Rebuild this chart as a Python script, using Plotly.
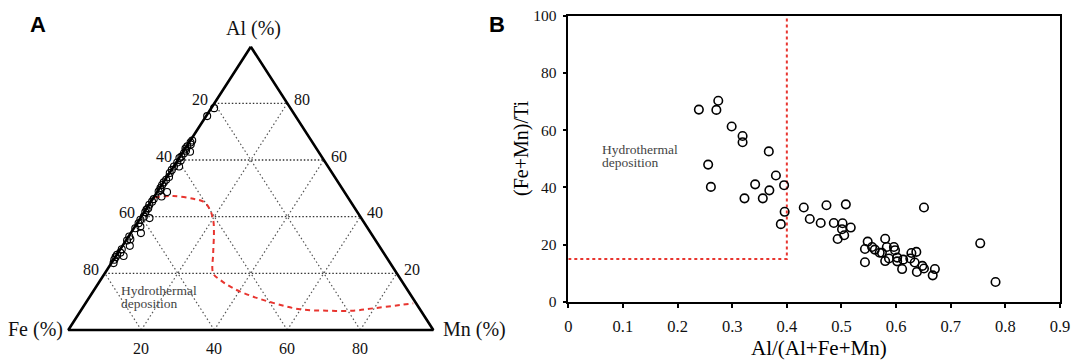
import plotly.graph_objects as go

# ---------------- Panel A : ternary Al - Fe - Mn (%) ----------------
a_al = [78.3, 75.5, 66.9, 66.2, 64.8, 64.0, 62.9, 62.4, 61.2, 60.7, 59.8, 59.1, 57.7, 57.7,
        56.5, 55.4, 54.0, 52.1, 51.2, 50.1, 48.9, 48.7, 47.1, 46.2, 45.3, 44.2, 43.0, 41.6,
        40.0, 39.5, 38.9, 37.7, 36.5, 35.9, 34.2, 32.0, 31.6, 29.7, 27.3, 26.5, 25.7, 26.1,
        23.6, 65.5, 63.3, 53.0, 49.5, 42.5, 33.0, 28.5, 24.8]
a_mn = [0.8, 0.3, 0.5, 0.4, 0.2, 0.1, 1.9, 0.5, 0.4, 0.1, 0.9, 0.3, 1.5, 0.1,
        0.1, 0.1, 0.6, 0.1, 0.1, 0.2, 0.3, 2.7, 2.0, 0.3, 0.3, 0.1, 0.4, 0.3,
        0.7, 2.5, 0.3, 0.4, 1.5, 0.4, 2.8, 1.0, 0.3, 2.0, 0.6, 0.1, 0.1, 2.1,
        0.6, 0.8, 0.6, 0.3, 0.5, 0.2, 0.2, 0.4, 0.2]
a_fe = [20.9, 24.2, 32.6, 33.4, 35.0, 35.9, 35.2, 37.1, 38.4, 39.2, 39.3, 40.6, 40.8, 42.2,
        43.4, 44.5, 45.4, 47.8, 48.7, 49.7, 50.8, 48.6, 50.9, 53.5, 54.4, 55.7, 56.6, 58.1,
        59.3, 58.0, 60.8, 61.9, 62.0, 63.7, 63.0, 67.0, 68.1, 68.3, 72.1, 73.4, 74.2, 71.8,
        75.8, 33.7, 36.1, 46.7, 50.0, 57.3, 66.8, 71.1, 75.0]

# red dashed boundary of the hydrothermal field
bnd_al = [46.8, 47.3, 46.3, 45.3, 43.0, 38.8, 34.1, 27.1, 20.0, 17.65, 14.7, 11.75, 9.2,
          7.3, 6.8, 6.8, 7.65, 8.8, 9.4]
bnd_mn = [0.2, 5.1, 11.1, 14.35, 17.1, 20.3, 22.85, 26.15, 29.7, 32.8, 37.85, 44.8, 52.5,
          59.85, 67.4, 74.7, 79.8, 86.5, 89.8]
bnd_fe = [53.0, 47.6, 42.6, 40.35, 39.9, 40.9, 43.05, 46.75, 50.3, 49.55, 47.45, 43.45, 38.3,
          32.85, 25.8, 18.5, 12.55, 4.7, 0.8]

tern_grid = [20, 40, 60, 80]

# ---------------- Panel B : (Fe+Mn)/Ti vs Al/(Al+Fe+Mn) ----------------
b_x = [0.239, 0.2745, 0.271, 0.299, 0.319, 0.319, 0.367, 0.256, 0.261, 0.380, 0.342, 0.395,
       0.368, 0.3225, 0.356, 0.396, 0.389, 0.431, 0.4725, 0.508, 0.442, 0.462, 0.486, 0.502,
       0.501, 0.517, 0.505, 0.493, 0.651, 0.543, 0.548, 0.543, 0.556, 0.561, 0.570, 0.574,
       0.580, 0.583, 0.596, 0.598, 0.587, 0.580, 0.602, 0.602, 0.613, 0.611, 0.626, 0.628,
       0.637, 0.634, 0.638, 0.648, 0.651, 0.667, 0.671, 0.754, 0.782]
b_y = [67.2, 70.3, 67.1, 61.3, 58.0, 55.8, 52.6, 48.0, 40.2, 44.2, 41.1, 40.8,
       39.0, 36.2, 36.2, 31.5, 27.2, 33.0, 33.8, 34.1, 29.0, 27.6, 27.6, 27.5,
       25.4, 26.0, 23.3, 22.0, 33.0, 18.5, 21.1, 13.9, 19.2, 18.3, 17.2, 17.2,
       22.1, 19.2, 19.2, 18.1, 15.2, 14.3, 15.5, 14.2, 14.8, 11.5, 15.2, 17.1,
       17.5, 13.8, 10.5, 12.6, 11.7, 9.3, 11.5, 20.5, 7.0]
b_xticks = [0, 0.1, 0.2, 0.3, 0.4, 0.5, 0.6, 0.7, 0.8, 0.9]
b_xticklabels = ["0", "0.1", "0.2", "0.3", "0.4", "0.5", "0.6", "0.7", "0.8", "0.9"]
b_yticks = [0, 20, 40, 60, 80, 100]
thr_x = 0.4   # Al/(Al+Fe+Mn) threshold
thr_y = 15    # (Fe+Mn)/Ti threshold

SERIF = "Liberation Serif"
SANS = "Liberation Sans"
W, H = 1075, 362
RED = "#e8352f"


def tern(al, fe, mn):
    """ternary (Al top, Fe bottom-left, Mn bottom-right) -> plane coordinates"""
    s = al + fe + mn
    a = 100.0 * al / s
    m = 100.0 * mn / s
    return m + a / 2.0, a


def tern_list(als, fes, mns):
    xs, ys = [], []
    for al, fe, mn in zip(als, fes, mns):
        x, y = tern(al, fe, mn)
        xs.append(x)
        ys.append(y)
    return xs, ys


fig = go.Figure()

# ---- grid lines of the ternary diagram
hx, hy, dx, dy = [], [], [], []
for g in tern_grid:
    x0, y0 = tern(g, 100 - g, 0)
    x1, y1 = tern(g, 0, 100 - g)
    hx += [x0, x1, None]
    hy += [y0, y1, None]
    for p, q in [((0, 100 - g, g), (100 - g, 0, g)),        # constant Mn
                 ((0, g, 100 - g), (100 - g, g, 0))]:       # constant Fe
        x0, y0 = tern(*p)
        x1, y1 = tern(*q)
        dx += [x0, x1, None]
        dy += [y0, y1, None]
fig.add_trace(go.Scatter(x=hx, y=hy, mode="lines", xaxis="x", yaxis="y",
                         line=dict(color="#333333", width=1.3, dash="1.5px,2px"),
                         hoverinfo="skip", showlegend=False, cliponaxis=False))
fig.add_trace(go.Scatter(x=dx, y=dy, mode="lines", xaxis="x", yaxis="y",
                         line=dict(color="#555555", width=1.2, dash="1.5px,2.5px"),
                         hoverinfo="skip", showlegend=False, cliponaxis=False))

# ---- boundary curve
bx, by = tern_list(bnd_al, bnd_fe, bnd_mn)
fig.add_trace(go.Scatter(x=bx, y=by, mode="lines", xaxis="x", yaxis="y",
                         line=dict(color=RED, width=2, dash="5px,4px", shape="spline"),
                         showlegend=False, cliponaxis=False))

# ---- triangle outline
corners = [(100, 0, 0), (0, 100, 0), (0, 0, 100), (100, 0, 0)]
tx, ty = tern_list([c[0] for c in corners], [c[1] for c in corners], [c[2] for c in corners])
fig.add_trace(go.Scatter(x=tx, y=ty, mode="lines", xaxis="x", yaxis="y",
                         line=dict(color="black", width=2.6),
                         showlegend=False, cliponaxis=False))

# ---- samples
px_, py_ = tern_list(a_al, a_fe, a_mn)
fig.add_trace(go.Scatter(x=px_, y=py_, mode="markers", xaxis="x", yaxis="y",
                         marker=dict(symbol="circle-open", size=7, color="black",
                                     line=dict(width=1.1)),
                         showlegend=False, cliponaxis=False))

# ---------------- Panel B traces ----------------
fig.add_trace(go.Scatter(x=[0, thr_x, thr_x], y=[thr_y, thr_y, b_yticks[-1]], mode="lines",
                         xaxis="x2", yaxis="y2",
                         line=dict(color=RED, width=2, dash="3px,3px"),
                         showlegend=False, cliponaxis=False))
fig.add_trace(go.Scatter(x=b_x, y=b_y, mode="markers", xaxis="x2", yaxis="y2",
                         marker=dict(symbol="circle-open", size=8.5, color="black",
                                     line=dict(width=1.6)),
                         showlegend=False, cliponaxis=False))

annotations = []


def ann_a(al, fe, mn, text, size=16, xshift=0, yshift=0, xanchor="center", color="#111"):
    x, y = tern(al, fe, mn)
    annotations.append(dict(x=x, y=y, xref="x", yref="y", text=text, showarrow=False,
                            xanchor=xanchor, yanchor="middle", xshift=xshift, yshift=yshift,
                            font=dict(family=SERIF, size=size, color=color)))


for g in tern_grid:
    # left edge : Fe %
    ann_a(g, 100 - g, 0, str(100 - g), xshift=-14, yshift=4)
    # right edge : Al %
    ann_a(g, 0, 100 - g, str(g), xshift=15, yshift=4)
    # bottom edge : Mn %
    ann_a(0, 100 - g, g, str(g), yshift=-19)

ann_a(100, 0, 0, "Al (%)", size=20, xshift=3, yshift=18)
ann_a(0, 100, 0, "Fe (%)", size=20, xshift=-3, xanchor="right")
ann_a(0, 0, 100, "Mn (%)", size=20, xshift=8, xanchor="left")

# in-panel labels
annotations.append(dict(x=13.9, y=14.1, xref="x", yref="y", text="Hydrothermal",
                        showarrow=False, xanchor="left", yanchor="middle",
                        font=dict(family=SERIF, size=13.5, color="#444")))
annotations.append(dict(x=13.9, y=9.2, xref="x", yref="y", text="deposition",
                        showarrow=False, xanchor="left", yanchor="middle",
                        font=dict(family=SERIF, size=13.5, color="#444")))
annotations.append(dict(x=0.058, y=53.2, xref="x2", yref="y2", text="Hydrothermal",
                        showarrow=False, xanchor="left", yanchor="middle",
                        font=dict(family=SERIF, size=13.5, color="#444")))
annotations.append(dict(x=0.058, y=48.6, xref="x2", yref="y2", text="deposition",
                        showarrow=False, xanchor="left", yanchor="middle",
                        font=dict(family=SERIF, size=13.5, color="#444")))


def ann_px(px, py, text, size, family=SERIF, angle=0, bold=False):
    annotations.append(dict(x=px / W, y=1 - py / H, xref="paper", yref="paper",
                            text=f"<b>{text}</b>" if bold else text, showarrow=False,
                            xanchor="center", yanchor="middle", textangle=angle,
                            borderpad=0,
                            font=dict(family=family, size=size, color="black")))


ann_px(38, 25, "A", 22, family=SANS, bold=True)
ann_px(497, 24, "B", 22, family=SANS, bold=True)
ann_px(819, 348, "Al/(Al+Fe+Mn)", 21)
ann_px(521, 149, "(Fe+Mn)/Ti", 20, angle=-90)

axis_b = dict(showline=True, mirror=True, linecolor="black", linewidth=1.5,
              ticks="outside", ticklen=4, tickwidth=1.5, tickcolor="black",
              showgrid=False, zeroline=False, automargin=False)

fig.update_layout(
    template="none",
    width=W, height=H,
    margin=dict(l=0, r=0, t=0, b=0, pad=0, autoexpand=False),
    paper_bgcolor="white", plot_bgcolor="white",
    showlegend=False,
    font=dict(family=SERIF, color="#111"),
    xaxis=dict(domain=[0.012605, 0.45400], range=[-15, 115], visible=False,
               anchor="y", fixedrange=True, automargin=False),
    yaxis=dict(domain=[0.01022, 0.96492], range=[-10, 112], visible=False,
               anchor="x", fixedrange=True, automargin=False),
    xaxis2=dict(domain=[0.52865, 0.98605], range=[0, 0.9], anchor="y2",
                tickmode="array", tickvals=b_xticks, ticktext=b_xticklabels,
                ticklabelstandoff=4,
                tickfont=dict(family=SERIF, size=16.5, color="#111"), **axis_b),
    yaxis2=dict(domain=[0.16575, 0.95663], range=[0, 100], anchor="x2",
                tickmode="array", tickvals=b_yticks,
                ticklabelstandoff=3,
                tickfont=dict(family=SERIF, size=15.5, color="#111"), **axis_b),
    annotations=annotations,
)

fig.write_html("out.html",
               config={"displayModeBar": False},
               post_script="document.body.style.margin='0px';"
                           "document.body.style.padding='0px';"
                           "document.documentElement.style.overflow='hidden';")
